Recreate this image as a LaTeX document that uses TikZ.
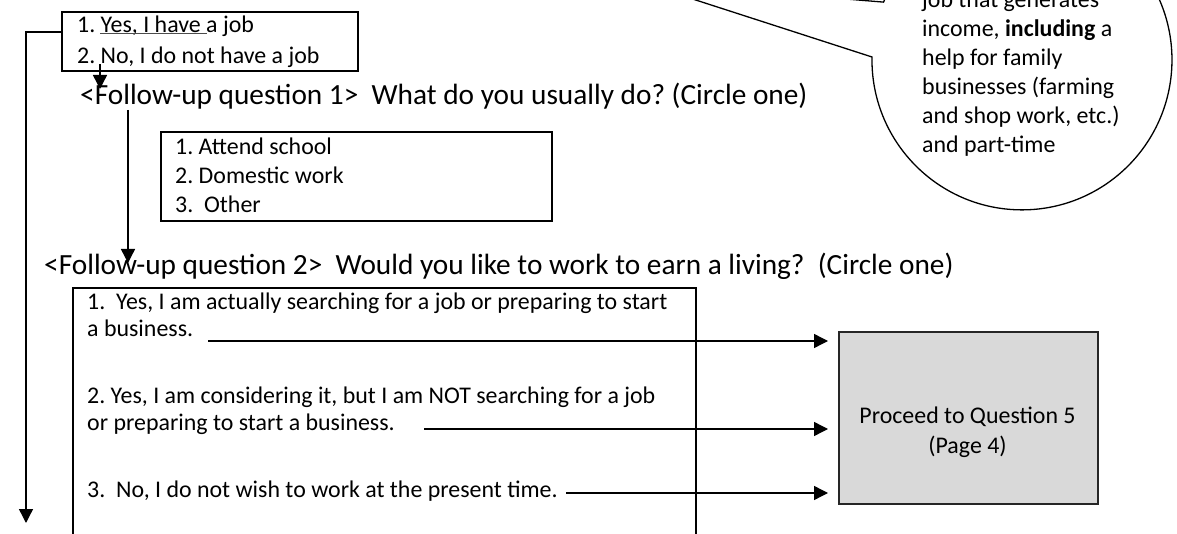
\documentclass[tikz,border=0pt]{standalone}
\usepackage{fontspec}
\setmainfont{Carlito}
\usetikzlibrary{arrows.meta}
\frenchspacing
\tikzset{
  boxline/.style={draw=black, line width=1.8pt, inner sep=0pt},
  arr/.style={line width=1.4pt, -{Triangle[length=14pt,width=14pt]}},
  txt/.style={inner sep=0pt, anchor=base west, font=\fontsize{23.9}{28}\selectfont},
  qtxt/.style={inner sep=0pt, anchor=base west, font=\fontsize{29.3}{35}\selectfont},
  ctxt/.style={inner sep=0pt, anchor=base, font=\fontsize{23.9}{28}\selectfont},
}
\begin{document}
\begin{tikzpicture}[x=1pt,y=-1pt]
\useasboundingbox (0,0) rectangle (1177,534);
\clip (0,0) rectangle (1177,534);
% callout bubble
\begin{scope}[y=1pt]
\draw[line width=1.3pt, fill=white] (640,18) -- (872,-57)
  arc[start angle=178.9, end angle=517.35, radius=150] -- cycle;
\end{scope}
\node[txt] (c1) at (922,8) {job that generates};
\node[txt] (c2) at (922,37) {income, {\bfseries including} a};
\node[txt] (c3) at (922,66) {help for family};
\node[txt] (c4) at (922,95) {businesses (farming};
\node[txt] (c5) at (922,124) {and shop work, etc.)};
\node[txt] (c6) at (922,153) {and part-time};
% box 1
\node[boxline, anchor=north west, minimum width=296pt, minimum height=59pt] (b1) at (61,11) {};
\node[txt] (t1a) at (77,33) {1. Yes, I have a job};
\node[txt] (t1b) at (77,64) {2. No, I do not have a job};
\draw[line width=1.2pt, draw=black!70] (100,33.5) -- (207,33.5);
% follow-up 1
\node[qtxt] (q1) at (80,105) {<Follow-up question 1>~ What do you usually do? (Circle one)};
% box 3
\node[boxline, anchor=north west, minimum width=391pt, minimum height=89pt] (b3) at (160,131) {};
\node[txt] (t3a) at (175,155) {1. Attend school};
\node[txt] (t3b) at (175,184) {2. Domestic work};
\node[txt] (t3c) at (175,213) {3.~ Other};
% follow-up 2
\node[qtxt] (q2) at (44,275) {<Follow-up question 2>~ Would you like to work to earn a living?~ (Circle one)};
% big box
\node[boxline, anchor=north west, minimum width=623pt, minimum height=270pt] (b2) at (72,287) {};
\node[txt] (t2a) at (87,309) {1.~ Yes, I am actually searching for a job or preparing to start};
\node[txt] (t2b) at (87,336) {a business.};
\node[txt] (t2c) at (87,403) {2. Yes, I am considering it, but I am NOT searching for a job};
\node[txt] (t2d) at (87,430) {or preparing to start a business.};
\node[txt] (t2e) at (87,497) {3.~ No, I do not wish to work at the present time.};
% grey box
\node[draw=black!85, line width=1.6pt, fill=black!15, anchor=north west,
      minimum width=259pt, minimum height=172pt, inner sep=0pt] (gb) at (838,331) {};
\node[ctxt] (g1) at (967.5,423) {Proceed to Question 5};
\node[ctxt] (g2) at (967.5,453) {(Page 4)};
% connectors
\coordinate (L0) at (26,32);
\coordinate (L1) at (26,523);
\draw[arr] (b1.west |- L0) -- (L0) -- (L1);
\coordinate (d0) at (100,64);
\coordinate (d1) at (100,89);
\draw[arr] (d0) -- (d1);
\coordinate (v0) at (128,110);
\coordinate (v1) at (128,263);
\draw[arr] (v0) -- (v1);
\coordinate (s1) at (208,341);
\coordinate (s2) at (424,429);
\coordinate (s3) at (566,493);
\draw[arr, shorten >=10pt] (s1) -- (s1 -| gb.west);
\draw[arr, shorten >=10pt] (s2) -- (s2 -| gb.west);
\draw[arr, shorten >=10pt] (s3) -- (s3 -| gb.west);
\end{tikzpicture}
\end{document}
